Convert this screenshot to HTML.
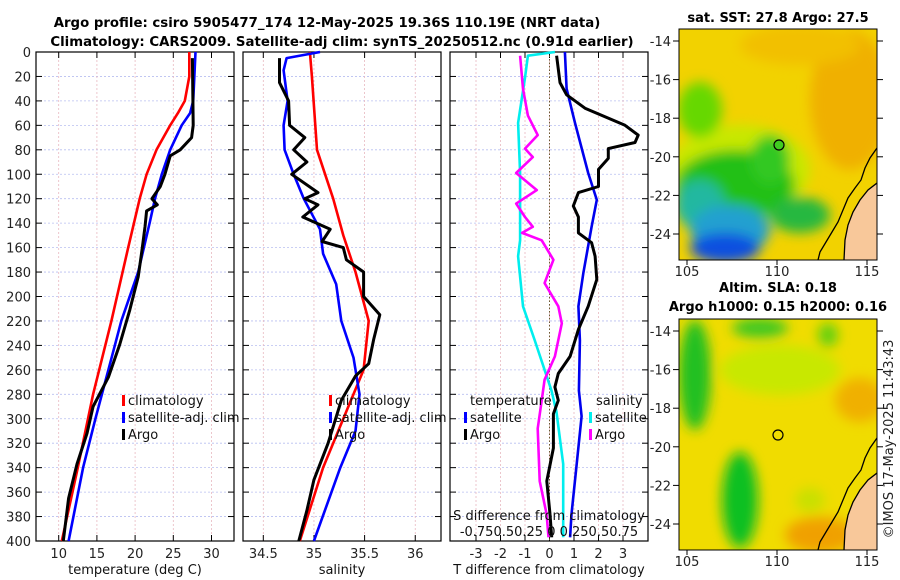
<!DOCTYPE html>
<html><head><meta charset="utf-8"><style>
html,body{margin:0;padding:0;background:#fff;}
svg{display:block;font-family:"DejaVu Sans","Liberation Sans",sans-serif;}
</style></head><body>
<svg id="chart" width="900" height="580" viewBox="0 0 900 580">
<defs>
<filter id="bl" x="-50%" y="-50%" width="200%" height="200%"><feGaussianBlur stdDeviation="6"/></filter>
<clipPath id="cm1"><rect x="679" y="29" width="198" height="231"/></clipPath>
<clipPath id="cm2"><rect x="679" y="319" width="198" height="231"/></clipPath>
</defs>
<g font-weight="bold" font-size="13.3" text-anchor="middle">
<text x="327" y="27">Argo profile: csiro 5905477_174 12-May-2025 19.36S 110.19E (NRT data)</text>
<text x="342" y="46">Climatology: CARS2009. Satellite-adj clim: synTS_20250512.nc (0.91d earlier)</text>
</g>
<g id="panels"></g>

<!-- top map -->
<g>
<text x="778" y="22" font-size="13" font-weight="bold" text-anchor="middle">sat. SST: 27.8 Argo: 27.5</text>
<g clip-path="url(#cm1)">
<rect x="679" y="29" width="198" height="231" fill="#f2d200"/>
<g filter="url(#bl)">
<ellipse cx="850" cy="100" rx="40" ry="70" fill="#f0b000"/>
<ellipse cx="800" cy="45" rx="60" ry="20" fill="#f2c000"/>
<ellipse cx="740" cy="170" rx="70" ry="45" fill="#c8e800"/>
<ellipse cx="700" cy="110" rx="22" ry="28" fill="#66d800"/>
<ellipse cx="735" cy="185" rx="60" ry="35" fill="#22c018"/>
<ellipse cx="770" cy="160" rx="20" ry="25" fill="#30c820"/>
<ellipse cx="800" cy="215" rx="30" ry="18" fill="#28b840"/>
<ellipse cx="700" cy="205" rx="25" ry="25" fill="#20b8a0"/>
<ellipse cx="730" cy="230" rx="40" ry="25" fill="#20a0d0"/>
<ellipse cx="725" cy="248" rx="35" ry="15" fill="#1050e0"/>
</g>
<polygon points="877,183 868,190 860,200 853,212 848,225 845,240 844,260 877,260" fill="#f8c89a"/>
<polyline points="877,148 870,158 865,168 861,180 855,188 848,198 843,210 838,222 832,232 826,242 820,252 818,260" fill="none" stroke="#000" stroke-width="1.3"/>
<polyline points="877,183 868,190 860,200 853,212 848,225 845,240 844,260" fill="none" stroke="#000" stroke-width="1.3"/>
<circle cx="779" cy="145" r="5" fill="#40cc20" stroke="#000" stroke-width="1.2"/>
</g>
<rect x="679" y="29" width="198" height="231" fill="none" stroke="#000"/>
</g>

<!-- bottom map -->
<g>
<text x="778" y="292" font-size="13" font-weight="bold" text-anchor="middle">Altim. SLA: 0.18</text>
<text x="778" y="311" font-size="13" font-weight="bold" text-anchor="middle">Argo h1000: 0.15 h2000: 0.16</text>
<g clip-path="url(#cm2)">
<rect x="679" y="319" width="198" height="231" fill="#f0dc00"/>
<g filter="url(#bl)">
<ellipse cx="780" cy="370" rx="60" ry="25" fill="#c8e800"/>
<ellipse cx="860" cy="400" rx="25" ry="22" fill="#f0b000"/>
<ellipse cx="820" cy="535" rx="35" ry="18" fill="#f0a000"/>
<ellipse cx="695" cy="375" rx="16" ry="55" fill="#20c020"/>
<ellipse cx="760" cy="328" rx="28" ry="10" fill="#40c820"/>
<ellipse cx="828" cy="335" rx="10" ry="12" fill="#60d010"/>
<ellipse cx="740" cy="500" rx="18" ry="48" fill="#10c020"/>
<ellipse cx="810" cy="500" rx="15" ry="12" fill="#c8e000"/>
</g>
<polygon points="877,473 868,480 860,490 853,502 848,515 845,530 844,550 877,550" fill="#f8c89a"/>
<polyline points="877,438 870,448 865,458 861,470 855,478 848,488 843,500 838,512 832,522 826,532 820,542 818,550" fill="none" stroke="#000" stroke-width="1.3"/>
<polyline points="877,473 868,480 860,490 853,502 848,515 845,530 844,550" fill="none" stroke="#000" stroke-width="1.3"/>
<circle cx="778" cy="435" r="5" fill="none" stroke="#000" stroke-width="1.2"/>
</g>
<rect x="679" y="319" width="198" height="231" fill="none" stroke="#000"/>
</g>
<g id="mapaxes"></g>
<text transform="translate(893,439) rotate(-90)" font-size="13" text-anchor="middle" fill="#222">©IMOS 17-May-2025 11:43:43</text>
</svg>
<script>
// ---- data ----
const depthTicks = [0,20,40,60,80,100,120,140,160,180,200,220,240,260,280,300,320,340,360,380,400];
const tempTicks = [10,15,20,25,30];
const salTicks = [34.5,35,35.5,36];
const diffTicks = [-3,-2,-1,0,1,2,3];
const tClimDepth = [0,20,40,50,60,80,100,120,160,220,280,340,400];
const tClim = [27.1,27.1,26.5,25.6,24.6,22.8,21.5,20.6,19.1,16.9,14.5,12.5,10.4];
const tSatDepth = [0,40,50,60,80,100,120,140,180,220,260,300,340,400];
const tSat = [27.9,27.6,27.2,26.1,24.6,23.5,22.6,21.9,20.4,18.2,16.5,14.8,13.2,11.3];
const tArgoDepth = [5,60,70,80,85,100,110,120,125,130,143,162,184,211,239,266,290,312,337,365,400];
const tArgo = [27.5,27.6,27.4,25.9,24.6,23.9,23.3,22.2,22.9,21.5,21.3,20.9,20.4,19.3,18.0,16.5,14.5,13.7,12.4,11.3,10.6];
const sClimDepth = [0,20,80,120,150,180,220,260,300,340,400];
const sClim = [34.96,34.98,35.03,35.19,35.29,35.41,35.54,35.49,35.29,35.09,34.86];
const sSatDepth = [0,5,15,40,60,80,100,120,145,165,190,220,250,280,310,340,400];
const sSat = [35.06,34.73,34.70,34.74,34.70,34.71,34.80,34.90,35.06,35.09,35.22,35.27,35.39,35.45,35.41,35.26,35.0];
const sArgoDepth = [5,25,40,60,70,80,90,100,115,120,125,135,145,155,160,170,180,200,215,235,255,265,285,320,350,375,400];
const sArgo = [34.66,34.66,34.75,34.76,34.91,34.80,34.93,34.78,35.04,34.91,35.04,34.89,35.16,35.08,35.29,35.32,35.49,35.49,35.65,35.59,35.54,35.41,35.27,35.14,35.0,34.93,34.85];
const dTSatDepth = [0,30,58,99,121,143,181,208,236,277,298,337,378,397];
const dTSat = [0.63,0.7,1.04,1.58,1.93,1.72,1.38,1.18,1.24,1.2,1.31,1.11,0.9,0.84];
const dTArgoDepth = [3,25,35,46,60,68,74,79,87,96,110,115,126,135,148,156,167,186,208,227,249,263,274,285,296,324,351,378,397];
const dTArgo = [0.29,0.43,0.7,1.45,3.08,3.62,3.49,2.4,2.4,2.0,2.0,1.18,0.97,1.18,1.18,1.72,1.86,1.93,1.58,1.18,0.84,0.36,0.22,0.36,0.16,0.16,-0.11,0.02,0.09];
const dSSatDepth = [0,3,21,58,99,154,167,208,236,277,294,337,397];
const dSSat = [0.055,-0.22,-0.25,-0.32,-0.3,-0.3,-0.32,-0.27,-0.15,0.02,0.07,0.14,0.14];
const dSArgoDepth = [3,30,52,68,79,86,99,113,124,135,143,148,154,170,189,208,222,249,268,285,308,351,378,397];
const dSArgo = [-0.3,-0.27,-0.22,-0.12,-0.25,-0.17,-0.34,-0.13,-0.34,-0.25,-0.17,-0.28,-0.08,0.04,-0.05,0.09,0.125,0.055,-0.05,-0.08,-0.12,-0.1,-0.03,-0.01];
const latTicks = [-14,-16,-18,-20,-22,-24];
const lonTicks = [105,110,115];

// ---- scales ----
const NS = "http://www.w3.org/2000/svg";
const yD = d => 52 + d * 1.2225;
const xT = t => 58.7 + (t - 10) * 7.64;
const xS = s => 263.3 + (s - 34.5) * 101.3;
const xDT = v => 549.5 + v * 24.5;
const xDS = v => 549.5 + v * 98;
const latY1 = l => 41 + (-14 - l) * 19.3;
const latY2 = l => 331 + (-14 - l) * 19.3;
const lonX = l => 687 + (l - 105) * 18;
const root = document.getElementById('panels');
function mk(tag, attrs, parent) {
  const e = document.createElementNS(NS, tag);
  for (const k in attrs) e.setAttribute(k, attrs[k]);
  (parent || root).appendChild(e);
  return e;
}
function line(depths, vals, xf, color, name, w) {
  const p = mk('polyline', {points: depths.map((d, i) => xf(vals[i]).toFixed(1) + ',' + yD(d).toFixed(1)).join(' '), fill: 'none', stroke: color, 'stroke-width': w || 2.6, 'stroke-linejoin': 'round'});
  
  
}
function panel(x0, x1, ticks, xf, name) {
  const g = mk('g', {});
  
  
  depthTicks.forEach(d => {
    mk('line', {x1: x0, x2: x1, y1: yD(d), y2: yD(d), stroke: '#b8bff0', 'stroke-dasharray': '2,2', 'stroke-width': 0.8}, g);
    mk('line', {x1: x0, x2: x0 + 6, y1: yD(d), y2: yD(d), stroke: '#000'}, g);
    mk('line', {x1: x1 - 6, x2: x1, y1: yD(d), y2: yD(d), stroke: '#000'}, g);
  });
  ticks.forEach(t => {
    const x = xf(t);
    mk('line', {x1: x, x2: x, y1: 52, y2: 541, stroke: '#e8b8c0', 'stroke-dasharray': '2,2', 'stroke-width': 0.8}, g);
    mk('line', {x1: x, x2: x, y1: 52, y2: 58, stroke: '#000'}, g);
    mk('line', {x1: x, x2: x, y1: 535, y2: 541, stroke: '#000'}, g);
    const tx = mk('text', {x: x, y: 558, 'font-size': 13, 'text-anchor': 'middle', fill: '#222'}, g);
    tx.textContent = t;
    
    
  });
  mk('rect', {x: x0, y: 52, width: x1 - x0, height: 489, fill: 'none', stroke: '#000', 'stroke-width': 1.2}, g);
  return g;
}
panel(36, 234, tempTicks, xT, 'temperature-panel');
panel(243, 441, salTicks, xS, 'salinity-panel');
panel(450, 648, diffTicks, xDT, 'difference-panel');
depthTicks.forEach(d => {
  const t = mk('text', {x: 31, y: yD(d) + 5, 'font-size': 13, 'text-anchor': 'end', fill: '#222'});
  t.textContent = d;
  
  
});
mk('line', {x1: 549.5, x2: 549.5, y1: 52, y2: 541, stroke: '#6a5a30', 'stroke-dasharray': '1.5,2', 'stroke-width': 1});

line(tClimDepth, tClim, xT, '#ff0000', 'temp-climatology-line');
line(tSatDepth, tSat, xT, '#0000ff', 'temp-satellite-line');
line(tArgoDepth, tArgo, xT, '#000000', 'temp-argo-line', 3);
line(sClimDepth, sClim, xS, '#ff0000', 'sal-climatology-line');
line(sSatDepth, sSat, xS, '#0000ff', 'sal-satellite-line');
line(sArgoDepth, sArgo, xS, '#000000', 'sal-argo-line', 3);
line(dSSatDepth, dSSat, xDS, '#00eeee', 'sdiff-satellite-line');
line(dSArgoDepth, dSArgo, xDS, '#ff00ff', 'sdiff-argo-line');
line(dTSatDepth, dTSat, xDT, '#0000ee', 'tdiff-satellite-line');
line(dTArgoDepth, dTArgo, xDT, '#000000', 'tdiff-argo-line', 3);

function txt(x, y, s, name, anchor, size) {
  const t = mk('text', {x: x, y: y, 'font-size': size || 13, 'text-anchor': anchor || 'start', fill: '#111'});
  t.textContent = s;
  
  
}
function legend(x, y, color, label, name) {
  mk('rect', {x: x, y: y - 10, width: 3, height: 11, fill: color});
  txt(x + 6, y, label, name);
}
legend(122, 405, '#ff0000', 'climatology', 'legend-climatology');
legend(122, 422, '#0000ff', 'satellite-adj. clim', 'legend-satellite');
legend(122, 439, '#000', 'Argo', 'legend-argo');
legend(329, 405, '#ff0000', 'climatology', 'legend-sal-climatology');
legend(329, 422, '#0000ff', 'satellite-adj. clim', 'legend-sal-satellite');
legend(329, 439, '#000', 'Argo', 'legend-sal-argo');
txt(470, 405, 'temperature', 'legend-temperature-header');
legend(464, 422, '#0000ff', 'satellite', 'legend-tdiff-satellite');
legend(464, 439, '#000', 'Argo', 'legend-tdiff-argo');
txt(596, 405, 'salinity', 'legend-salinity-header');
legend(589, 422, '#00eeee', 'satellite', 'legend-sdiff-satellite');
legend(589, 439, '#ff00ff', 'Argo', 'legend-sdiff-argo');
txt(549, 520, 'S difference from climatology', 's-diff-axis-title', 'middle');
txt(549, 536, '-0.750.50.25 0 0.250.50.75', 's-diff-tick-labels', 'middle');
txt(135, 574, 'temperature (deg C)', 'temperature-axis-title', 'middle');
txt(342, 574, 'salinity', 'salinity-axis-title', 'middle');
txt(549, 574, 'T difference from climatology', 't-diff-axis-title', 'middle');

const ma = document.getElementById('mapaxes');
[[latY1, 260, 276], [latY2, 550, 566]].forEach(([ly, by, lbY]) => {
  latTicks.forEach(l => {
    const y = ly(l);
    mk('line', {x1: 679, x2: 673, y1: y, y2: y, stroke: '#000'}, ma);
    mk('line', {x1: 877, x2: 883, y1: y, y2: y, stroke: '#000'}, ma);
    const t = mk('text', {x: 671, y: y + 5, 'font-size': 13, 'text-anchor': 'end', fill: '#222'}, ma);
    t.textContent = l;
    
    
  });
  lonTicks.forEach(l => {
    const x = lonX(l);
    mk('line', {x1: x, x2: x, y1: by, y2: by + 5, stroke: '#000'}, ma);
    const t = mk('text', {x: x, y: lbY, 'font-size': 13, 'text-anchor': 'middle', fill: '#222'}, ma);
    t.textContent = l;
    
    
  });
});
</script>
</body></html>
